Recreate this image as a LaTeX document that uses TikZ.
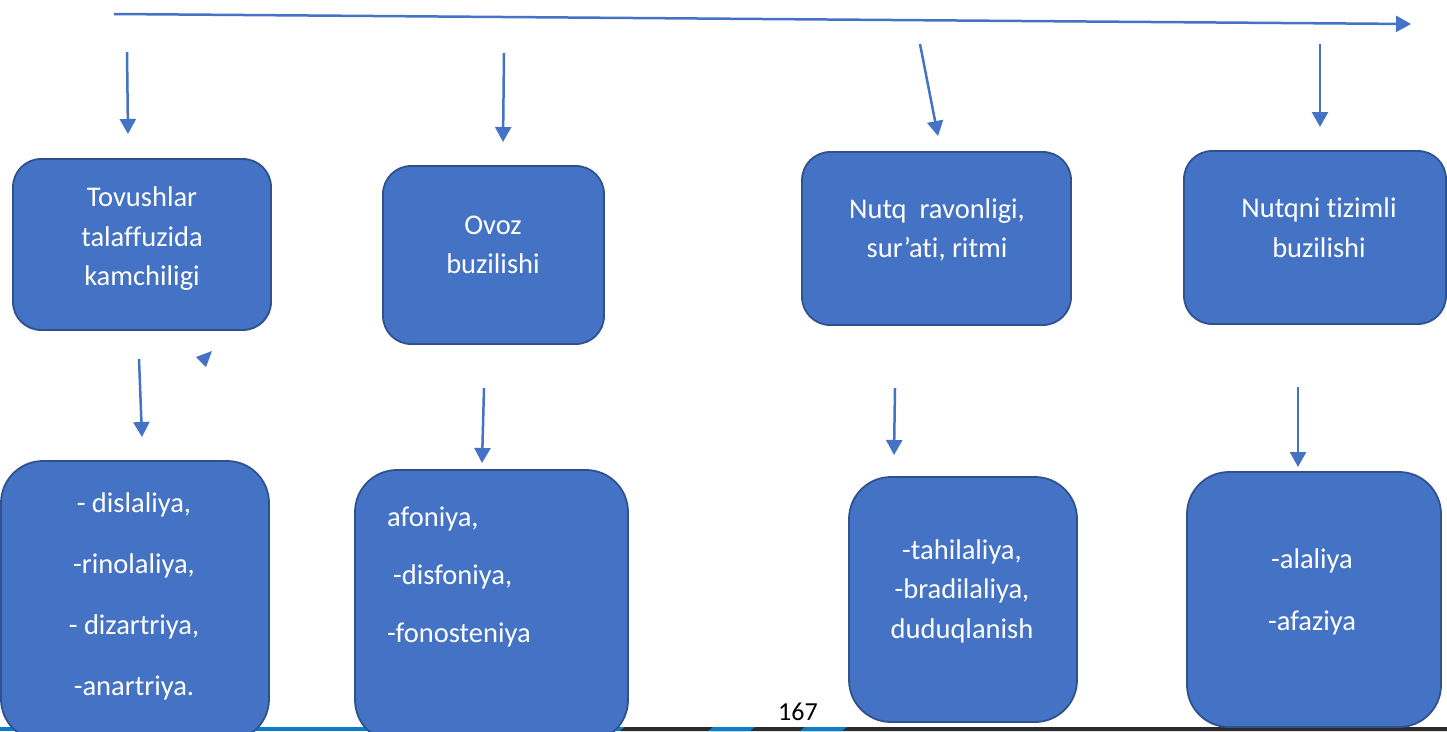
\documentclass[tikz,border=0pt]{standalone}
\usepackage{fontspec}
\setmainfont{Carlito}[Ligatures=NoCommon]
\usetikzlibrary{arrows.meta}
\definecolor{boxblue}{HTML}{4472C4}
\definecolor{boxedge}{HTML}{2F528F}
\definecolor{stripblue}{HTML}{0B7DCB}
\definecolor{stripdark}{HTML}{2B2B2B}

\begin{document}
\begin{tikzpicture}[
  x=1pt, y=-1pt,
  box/.style   ={rectangle, rounded corners=28pt, draw=boxedge, line width=1.8pt,
                 fill=boxblue, inner sep=0pt},
  lowbox/.style={box, rounded corners=42pt},
  txt/.style   ={text=white, font=\fontsize{28.5}{39.5}\selectfont, align=center, inner sep=0pt},
  spread/.style={font=\fontsize{28.5}{61}\selectfont},
  arr/.style   ={draw=boxblue, line width=2.5pt, -{Triangle[width=16pt,length=15pt]}},
]
\useasboundingbox (0,0) rectangle (1447,731);

% ---------------- page strip (bottom) ----------------
\fill[stripblue] (0,727) rectangle (626,731);
\fill[stripdark] (620,731) -- (625,727) -- (1447,727) -- (1447,731) -- cycle;
\fill[stripblue] (708,731) -- (713,727) -- (755,727) -- (750,731) -- cycle;
\fill[stripblue] (800,731) -- (805,727) -- (847,727) -- (842,731) -- cycle;

% ---------------- top row ----------------
\node[box, minimum width=258, minimum height=171] (tov) at (142,244.5) {};
\node[txt] (tovt) at (142,239) {Tovushlar\\talaffuzida\\kamchiligi};

\node[box, minimum width=221, minimum height=178] (ovoz) at (493.5,255) {};
\node[txt] (ovozt) at (493,245) {Ovoz\\buzilishi};

\node[box, minimum width=269, minimum height=173] (ravon) at (936.5,238.5) {};
\node[txt] (ravont) at (937,230) {Nutq\ \ ravonligi,\\sur’ati, ritmi};

\node[box, minimum width=262, minimum height=173] (tizim) at (1315,237.5) {};
\node[txt] (tizimt) at (1319,227.5) {Nutqni tizimli\\buzilishi};

% ---------------- bottom row ----------------
\node[lowbox, minimum width=268, minimum height=280] (disl) at (135,601) {};
\node[txt, spread] (dislt) at (134,596.5) {- dislaliya,\\-rinolaliya,\\- dizartriya,\\-anartriya.};

\node[lowbox, minimum width=273, minimum height=272] (afon) at (491.5,606) {};
\node[txt, font=\fontsize{28.5}{58}\selectfont, align=left, anchor=west] (afont) at (387,577)
  {afoniya,\\\hspace{6pt}-disfoniya,\\-fonosteniya};

\node[lowbox, minimum width=228, minimum height=245] (tahi) at (963,599.5) {};
\node[txt] (tahit) at (962,591) {-tahilaliya,\\-bradilaliya,\\duduqlanish};

\node[lowbox, minimum width=254, minimum height=255] (alal) at (1314,599.5) {};
\node[txt, font=\fontsize{28.5}{62}\selectfont] (alalt) at (1312,592) {-alaliya\\-afaziya};

% ---------------- arrows ----------------
\coordinate (hs) at (114,14);   \coordinate (he) at (1411,24);
\coordinate (d1s) at (127,52);  \coordinate (d1e) at (128,134);
\coordinate (d2s) at (504,53);  \coordinate (d2e) at (503,142);
\coordinate (d3s) at (920,44);  \coordinate (d3e) at (938,136);
\coordinate (d4s) at (1320,44); \coordinate (d4e) at (1320,127);
\coordinate (m1s) at (139,359); \coordinate (m1e) at (142,437);
\coordinate (m2s) at (484,388); \coordinate (m2e) at (482,463);
\coordinate (m3s) at (895,388); \coordinate (m3e) at (894,455);
\coordinate (m4s) at (1298,387);\coordinate (m4e) at (1298,467);

\draw[arr] (hs) -- (he);
\foreach \a in {d1,d2,d3,d4,m1,m2,m3,m4}
  \draw[arr] (\a s) -- (\a e);

% stray tip beside the first column
\fill[boxblue] (196,357) -- (212,351) -- (206,367) -- cycle;

% page number
\node[font=\fontsize{26}{30}\selectfont, inner sep=0pt] (page) at (798,712) {167};

\end{tikzpicture}
\end{document}
